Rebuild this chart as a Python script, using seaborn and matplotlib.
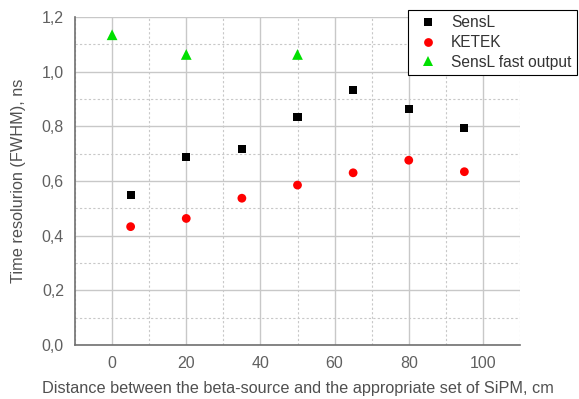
import matplotlib
matplotlib.use("Agg")
import matplotlib.pyplot as plt
import seaborn as sns
import pandas as pd
from matplotlib.ticker import MultipleLocator, FuncFormatter

sensl_x = [5, 20, 35, 50, 65, 80, 95]
sensl_y = [0.548, 0.689, 0.717, 0.834, 0.932, 0.862, 0.795]
ketek_x = [5, 20, 35, 50, 65, 80, 95]
ketek_y = [0.433, 0.463, 0.537, 0.585, 0.630, 0.676, 0.634]
fast_x = [0, 20, 50]
fast_y = [1.135, 1.063, 1.063]
series_names = ["SensL", "KETEK", "SensL fast output"]

df = pd.concat([
    pd.DataFrame({"x": sensl_x, "y": sensl_y, "series": series_names[0]}),
    pd.DataFrame({"x": ketek_x, "y": ketek_y, "series": series_names[1]}),
    pd.DataFrame({"x": fast_x, "y": fast_y, "series": series_names[2]}),
])

sns.set_style("white")
plt.rcParams["font.family"] = ["Liberation Sans", "DejaVu Sans"]

fig = plt.figure(figsize=(5.79, 3.99), dpi=100)
ax = fig.add_axes([75/579, 1-345/399, (520-75)/579, (345-17)/399])

palette = {"SensL": "#000000", "KETEK": "#ff0000", "SensL fast output": "#00e000"}
markers = {"SensL": "s", "KETEK": "o", "SensL fast output": "^"}
sizes = {"SensL": 34, "KETEK": 40, "SensL fast output": 60}
sns.scatterplot(data=df, x="x", y="y", hue="series", style="series", size="series",
                palette=palette, markers=markers, sizes=sizes, linewidth=0,
                ax=ax, zorder=3, clip_on=False)

ax.set_xlim(-10, 110)
ax.set_ylim(0, 1.2)
ax.xaxis.set_major_locator(MultipleLocator(20))
ax.xaxis.set_minor_locator(MultipleLocator(10))
ax.yaxis.set_major_locator(MultipleLocator(0.2))
ax.yaxis.set_minor_locator(MultipleLocator(0.1))
ax.yaxis.set_major_formatter(FuncFormatter(lambda v, p: f"{v:.1f}".replace(".", ",")))
ax.xaxis.set_major_formatter(FuncFormatter(lambda v, p: f"{v:.0f}"))

ax.grid(which="major", color="#c8c8c8", linewidth=1.0, linestyle="-")
ax.grid(which="minor", color="#c8c8c8", linewidth=0.8, linestyle=(0, (2, 2)))
ax.set_axisbelow(True)

for s in ["top", "right"]:
    ax.spines[s].set_visible(False)
for s in ["left", "bottom"]:
    ax.spines[s].set_color("#707070")
    ax.spines[s].set_linewidth(1.2)

ax.tick_params(which="major", direction="out", length=5, color="#707070",
               labelsize=11.5, labelcolor="#606060", pad=3)
ax.tick_params(which="minor", direction="out", length=3, color="#707070")

ax.set_xlabel("Distance between the beta-source and the appropriate set of SiPM, cm",
              fontsize=11.7, color="#505050", labelpad=7)
ax.set_ylabel("Time resolurion (FWHM), ns", fontsize=11.7, color="#505050", labelpad=11)

handles, labels = ax.get_legend_handles_labels()
leg = fig.legend(handles, labels, loc="upper left", bbox_to_anchor=(408/579, 1-10/399),
                 frameon=True, fancybox=False, fontsize=11.2, borderpad=0.35,
                 handletextpad=0.5, labelspacing=0.3, borderaxespad=0,
                 handlelength=1.9, framealpha=1)
leg.get_frame().set_edgecolor("#000000")
leg.get_frame().set_linewidth(0.8)
for t in leg.get_texts():
    t.set_color("#333333")
if ax.get_legend() is not None:
    ax.get_legend().remove()

fig.savefig("out.png", dpi=100)
